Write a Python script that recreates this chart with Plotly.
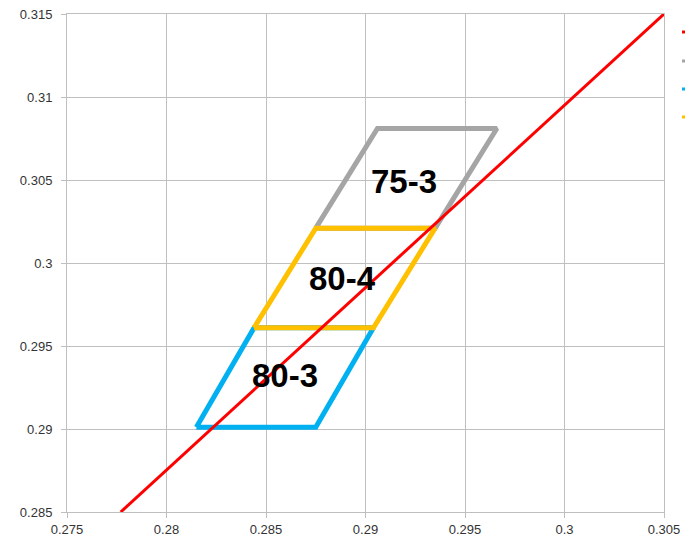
import plotly.graph_objects as go

# Red reference line
line_x = [0.2777, 0.305]
line_y = [0.285, 0.315]

# Parallelogram outlines (closed)
gray_x = [0.2875, 0.2906, 0.2966, 0.2935, 0.2875]
gray_y = [0.3021, 0.3081, 0.3081, 0.3021, 0.3021]

blue_x = [0.2815, 0.2844, 0.2904, 0.2875, 0.2815]
blue_y = [0.2901, 0.2961, 0.2961, 0.2901, 0.2901]

gold_x = [0.2844, 0.2875, 0.2935, 0.2904, 0.2844]
gold_y = [0.2961, 0.3021, 0.3021, 0.2961, 0.2961]

# Region labels
label_text = ["75-3", "80-4", "80-3"]
label_x = [0.29193, 0.28882, 0.28595]
label_y = [0.30494, 0.29904, 0.29325]

x_ticks = [0.275, 0.28, 0.285, 0.29, 0.295, 0.3, 0.305]
x_ticktext = ["0.275", "0.28", "0.285", "0.29", "0.295", "0.3", "0.305"]
y_ticks = [0.285, 0.29, 0.295, 0.3, 0.305, 0.31, 0.315]
y_ticktext = ["0.285", "0.29", "0.295", "0.3", "0.305", "0.31", "0.315"]

RED = "#FF0000"
GRAY = "#A5A5A5"
BLUE = "#00B0F0"
GOLD = "#FFC000"

fig = go.Figure()
fig.add_trace(go.Scatter(x=gray_x, y=gray_y, mode="lines",
                         line=dict(color=GRAY, width=5), showlegend=False))
fig.add_trace(go.Scatter(x=blue_x, y=blue_y, mode="lines",
                         line=dict(color=BLUE, width=5), showlegend=False))
fig.add_trace(go.Scatter(x=gold_x, y=gold_y, mode="lines",
                         line=dict(color=GOLD, width=5), showlegend=False))
fig.add_trace(go.Scatter(x=line_x, y=line_y, mode="lines",
                         line=dict(color=RED, width=3), showlegend=False))

for t, x, y in zip(label_text, label_x, label_y):
    fig.add_annotation(x=x, y=y, text="<b>%s</b>" % t, showarrow=False,
                       font=dict(family="Liberation Sans, Arial", size=33, color="#000000"))

# truncated legend keys at the right edge
legend_colors = [RED, GRAY, BLUE, GOLD]
legend_ys = [32, 61, 89, 117]
for c, py in zip(legend_colors, legend_ys):
    yp = 1 - (py - 14) / 498.0
    fig.add_shape(type="line", xref="paper", yref="paper",
                  x0=1 + (682 - 664) / 597.0, x1=1 + (685 - 664) / 597.0,
                  y0=yp, y1=yp, line=dict(color=c, width=3))

axis_common = dict(
    showgrid=True, gridcolor="#C0C0C0", gridwidth=1,
    showline=True, linecolor="#BFBFBF", linewidth=1, mirror=True,
    ticks="outside", ticklen=5, tickcolor="#BFBFBF",
    zeroline=False, automargin=False, ticklabeloverflow="allow",
    tickfont=dict(family="Liberation Sans, Arial", size=13, color="#333333"),
)

# page has an 8px body margin, so the figure box is offset by 8px
fig.update_layout(
    width=696, height=540,
    margin=dict(l=59, r=40, t=6, b=36, autoexpand=False),
    paper_bgcolor="white", plot_bgcolor="white",
    showlegend=False,
    xaxis=dict(range=[0.275, 0.305], tickvals=x_ticks, ticktext=x_ticktext, **axis_common),
    yaxis=dict(range=[0.285, 0.315], tickvals=y_ticks, ticktext=y_ticktext,
               ticklabelstandoff=6, **axis_common),
)

fig.write_html("out.html")
